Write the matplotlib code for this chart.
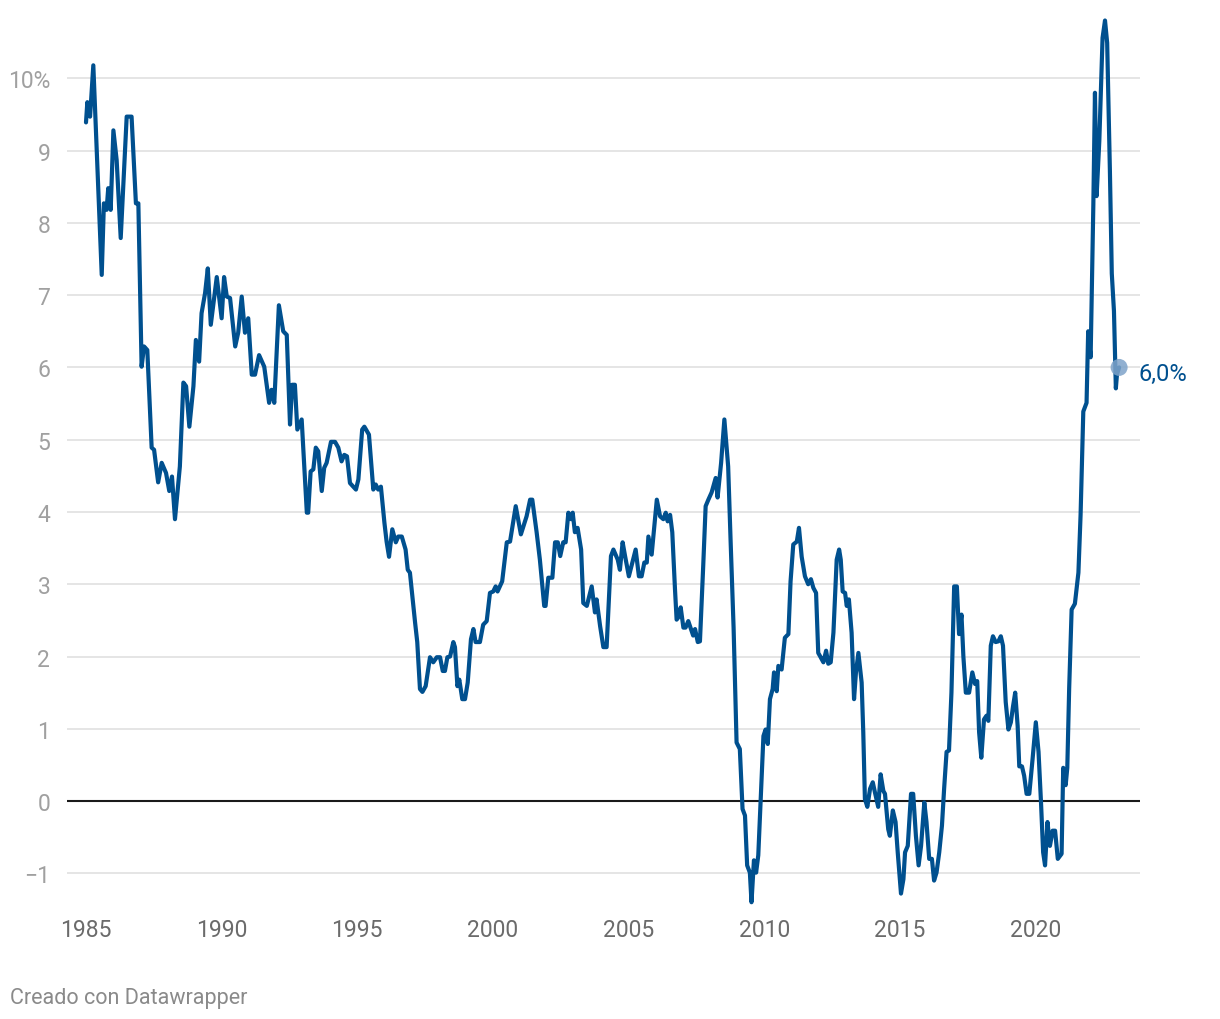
import matplotlib
matplotlib.use("Agg")
import matplotlib.pyplot as plt
import numpy as np

plt.rcParams['font.family'] = ['Roboto', 'DejaVu Sans']

# fecha (año decimal) e inflación interanual (%)
fechas = [
    1985.00, 1985.05, 1985.15, 1985.27, 1985.58, 1985.66, 1985.76, 1985.82, 1985.91,
    1986.01, 1986.13, 1986.28, 1986.50, 1986.68, 1986.84, 1986.93,
    1987.05, 1987.14, 1987.26, 1987.42, 1987.51, 1987.66, 1987.79, 1987.95,
    1988.07, 1988.17, 1988.28, 1988.46, 1988.59, 1988.69, 1988.81, 1988.96,
    1989.05, 1989.17, 1989.26, 1989.39, 1989.49, 1989.60, 1989.82,
    1990.00, 1990.09, 1990.19, 1990.31, 1990.50, 1990.61, 1990.74, 1990.86, 1990.98,
    1991.11, 1991.23, 1991.38, 1991.57, 1991.75, 1991.84, 1991.94,
    1992.11, 1992.27, 1992.40, 1992.52, 1992.60, 1992.70, 1992.79, 1992.95,
    1993.14, 1993.19, 1993.28, 1993.38, 1993.47, 1993.56, 1993.69, 1993.78, 1993.87,
    1994.03, 1994.18, 1994.30, 1994.42, 1994.52, 1994.62, 1994.73, 1994.85, 1994.95,
    1995.04, 1995.18, 1995.26, 1995.43, 1995.59, 1995.68, 1995.77, 1995.87,
    1996.00, 1996.08, 1996.17, 1996.29, 1996.42, 1996.51, 1996.64, 1996.78, 1996.86, 1996.94,
    1997.13, 1997.21, 1997.31, 1997.40, 1997.52, 1997.68, 1997.80, 1997.93,
    1998.05, 1998.15, 1998.23, 1998.32, 1998.42, 1998.54, 1998.60, 1998.69, 1998.76, 1998.87, 1998.97,
    1999.07, 1999.19, 1999.28, 1999.36, 1999.52, 1999.64, 1999.77, 1999.89,
    2000.01, 2000.10, 2000.17, 2000.34, 2000.51, 2000.63, 2000.84,
    2001.03, 2001.24, 2001.37, 2001.45, 2001.61, 2001.73, 2001.89, 2001.94,
    2002.04, 2002.19, 2002.29, 2002.39, 2002.48, 2002.59, 2002.68, 2002.78, 2002.88, 2002.94,
    2003.02, 2003.12, 2003.25, 2003.33, 2003.46, 2003.64, 2003.76, 2003.82, 2003.95,
    2004.07, 2004.19, 2004.35, 2004.44, 2004.60, 2004.68, 2004.78, 2004.87,
    2005.01, 2005.14, 2005.26, 2005.38, 2005.48, 2005.58, 2005.67, 2005.73, 2005.85,
    2006.04, 2006.16, 2006.28, 2006.37, 2006.44, 2006.53, 2006.61, 2006.71, 2006.77, 2006.83, 2006.92,
    2007.02, 2007.10, 2007.20, 2007.30, 2007.38, 2007.45, 2007.55, 2007.63, 2007.75, 2007.84, 2007.94,
    2008.06, 2008.21, 2008.28, 2008.41, 2008.53, 2008.67, 2008.76, 2008.87, 2008.98,
    2009.10, 2009.20, 2009.29, 2009.37, 2009.47, 2009.53, 2009.62, 2009.70, 2009.78, 2009.87, 2009.97,
    2010.05, 2010.13, 2010.21, 2010.31, 2010.36, 2010.46, 2010.52, 2010.64, 2010.76, 2010.89, 2010.97,
    2011.07, 2011.20, 2011.28, 2011.38, 2011.50, 2011.62, 2011.72, 2011.81, 2011.91, 2011.99,
    2012.08, 2012.18, 2012.28, 2012.36, 2012.45, 2012.55, 2012.67, 2012.76, 2012.82, 2012.89, 2012.98,
    2013.04, 2013.12, 2013.22, 2013.31, 2013.38, 2013.47, 2013.59, 2013.65, 2013.71, 2013.80, 2013.90,
    2014.00, 2014.08, 2014.20, 2014.29, 2014.39, 2014.45, 2014.57, 2014.63, 2014.74, 2014.84, 2014.92,
    2015.04, 2015.13, 2015.19, 2015.29, 2015.41, 2015.49, 2015.59, 2015.69, 2015.78, 2015.90, 2015.98,
    2016.08, 2016.18, 2016.26, 2016.35, 2016.45, 2016.55, 2016.63, 2016.72, 2016.81, 2016.90,
    2017.00, 2017.10, 2017.18, 2017.27, 2017.34, 2017.43, 2017.55, 2017.67, 2017.77, 2017.85, 2017.92,
    2018.00, 2018.10, 2018.19, 2018.26, 2018.35, 2018.43, 2018.53, 2018.63, 2018.72, 2018.80, 2018.90,
    2019.00, 2019.09, 2019.17, 2019.25, 2019.34, 2019.40, 2019.50, 2019.58, 2019.67, 2019.77, 2019.89,
    2020.01, 2020.11, 2020.20, 2020.28, 2020.35, 2020.44, 2020.53, 2020.63, 2020.72, 2020.82, 2020.96,
    2021.02, 2021.11, 2021.17, 2021.24, 2021.33, 2021.45, 2021.58, 2021.66, 2021.76, 2021.88, 2021.94,
    2022.03, 2022.13, 2022.19, 2022.25, 2022.35, 2022.47, 2022.56, 2022.64, 2022.74, 2022.81, 2022.89, 2022.96,
    2023.00, 2023.08,
]
ipc = [
    9.39, 9.67, 9.47, 10.18, 7.28, 8.27, 8.18, 8.48, 8.18,
    9.28, 8.87, 7.79, 9.47, 9.47, 8.27, 8.27,
    6.01, 6.29, 6.24, 4.89, 4.86, 4.41, 4.68, 4.54,
    4.29, 4.49, 3.90, 4.63, 5.79, 5.74, 5.18, 5.74,
    6.38, 6.08, 6.75, 7.03, 7.37, 6.59, 7.25,
    6.68, 7.25, 6.98, 6.96, 6.29, 6.48, 6.98, 6.48, 6.68,
    5.90, 5.90, 6.17, 6.01, 5.51, 5.69, 5.51,
    6.86, 6.50, 6.45, 5.21, 5.76, 5.76, 5.14, 5.28,
    3.99, 3.99, 4.56, 4.59, 4.89, 4.84, 4.29, 4.61, 4.68,
    4.97, 4.97, 4.89, 4.70, 4.79, 4.77, 4.40, 4.35, 4.31,
    4.45, 5.14, 5.18, 5.07, 4.31, 4.38, 4.31, 4.35,
    3.85, 3.59, 3.38, 3.76, 3.58, 3.66, 3.66, 3.48, 3.20, 3.16,
    2.47, 2.20, 1.55, 1.51, 1.59, 1.99, 1.92, 1.99,
    1.99, 1.80, 1.80, 1.99, 2.00, 2.20, 2.13, 1.59, 1.68, 1.41, 1.41,
    1.64, 2.24, 2.38, 2.20, 2.20, 2.44, 2.49, 2.88,
    2.90, 2.97, 2.90, 3.04, 3.58, 3.59, 4.08,
    3.69, 3.94, 4.17, 4.17, 3.72, 3.34, 2.70, 2.70,
    3.09, 3.09, 3.58, 3.58, 3.39, 3.58, 3.58, 3.99, 3.90, 3.99,
    3.72, 3.78, 3.48, 2.74, 2.70, 2.97, 2.61, 2.79, 2.42,
    2.13, 2.13, 3.39, 3.48, 3.34, 3.20, 3.58, 3.39,
    3.11, 3.30, 3.48, 3.11, 3.11, 3.30, 3.30, 3.66, 3.41,
    4.17, 3.94, 3.90, 3.99, 3.87, 3.96, 3.72, 2.93, 2.51, 2.54, 2.68,
    2.40, 2.40, 2.49, 2.38, 2.29, 2.38, 2.20, 2.21, 3.25, 4.08, 4.17,
    4.27, 4.47, 4.20, 4.68, 5.28, 4.63, 3.60, 2.40, 0.81,
    0.72, -0.11, -0.20, -0.89, -0.99, -1.40, -0.82, -0.99, -0.75, 0.03, 0.90,
    0.99, 0.79, 1.41, 1.55, 1.78, 1.52, 1.87, 1.82, 2.26, 2.31, 3.04,
    3.55, 3.59, 3.78, 3.38, 3.11, 3.00, 3.07, 2.95, 2.88, 2.05,
    1.99, 1.92, 2.08, 1.90, 1.92, 2.33, 3.34, 3.48, 3.34, 2.90, 2.88,
    2.70, 2.79, 2.33, 1.41, 1.78, 2.05, 1.64, 0.95, 0.03, -0.08, 0.17,
    0.26, 0.12, -0.08, 0.37, 0.14, 0.10, -0.39, -0.48, -0.13, -0.29, -0.71,
    -1.28, -1.08, -0.71, -0.62, 0.10, 0.10, -0.48, -0.89, -0.62, -0.02, -0.29,
    -0.80, -0.80, -1.10, -0.99, -0.71, -0.34, 0.17, 0.68, 0.70, 1.50,
    2.97, 2.97, 2.31, 2.58, 2.00, 1.50, 1.50, 1.78, 1.62, 1.66, 0.95,
    0.60, 1.13, 1.18, 1.11, 2.15, 2.28, 2.20, 2.21, 2.28, 2.15, 1.37,
    0.99, 1.09, 1.31, 1.50, 1.04, 0.48, 0.48, 0.35, 0.10, 0.10, 0.58,
    1.09, 0.68, -0.01, -0.71, -0.89, -0.29, -0.62, -0.41, -0.41, -0.80, -0.73,
    0.46, 0.22, 0.46, 1.57, 2.65, 2.73, 3.16, 3.96, 5.39, 5.51, 6.50,
    6.14, 8.25, 9.80, 8.37, 9.13, 10.56, 10.80, 10.49, 8.73, 7.30, 6.78, 5.71,
    5.90, 6.00,
]

anios = [1985, 1990, 1995, 2000, 2005, 2010, 2015, 2020]
niveles = list(range(-1, 11))
etiquetas_y = ['\u22121', '0', '1', '2', '3', '4', '5', '6', '7', '8', '9', '10%']

AZUL = '#00508f'

fig = plt.figure(figsize=(12.2, 10.2), dpi=100)
ax = fig.add_axes([67 / 1220, 1 - 907 / 1020, (1140 - 67) / 1220, (907 - 15) / 1020])

# rejilla y línea del cero
for n in niveles:
    if n == 0:
        ax.axhline(n, color='#1a1a1a', lw=1.5, zorder=2)
    else:
        ax.axhline(n, color='#e3e3e3', lw=1.3, zorder=1)

ax.plot(fechas, ipc, color=AZUL, lw=3.0, solid_joinstyle='round',
        solid_capstyle='round', zorder=3)

# último dato resaltado
ax.scatter([fechas[-1]], [ipc[-1]], s=150, color='#7ea3c9', alpha=0.85,
           edgecolor='none', zorder=4)
ax.annotate('6,0%', (fechas[-1], ipc[-1]), xytext=(14, -4),
            textcoords='offset points', color=AZUL, fontsize=17,
            va='center', ha='left', annotation_clip=False)

ax.set_xlim(1984.30, 2023.85)
ax.set_ylim(-1.452, 10.89)

ax.set_yticks(niveles)
ax.set_yticklabels(etiquetas_y)
ax.set_xticks(anios)
ax.set_xticklabels([str(a) for a in anios])

ax.tick_params(axis='y', length=0, pad=12, labelsize=16.5, labelcolor='#a0a0a0')
ax.tick_params(axis='x', length=0, pad=9, labelsize=16.5, labelcolor='#6b6b6b')
for s in ax.spines.values():
    s.set_visible(False)

fig.text(10 / 1220, 1 - 999 / 1020, 'Creado con Datawrapper', color='#8a8a8a',
         fontsize=15.5, ha='left', va='center')

fig.savefig('out.png', dpi=100)
